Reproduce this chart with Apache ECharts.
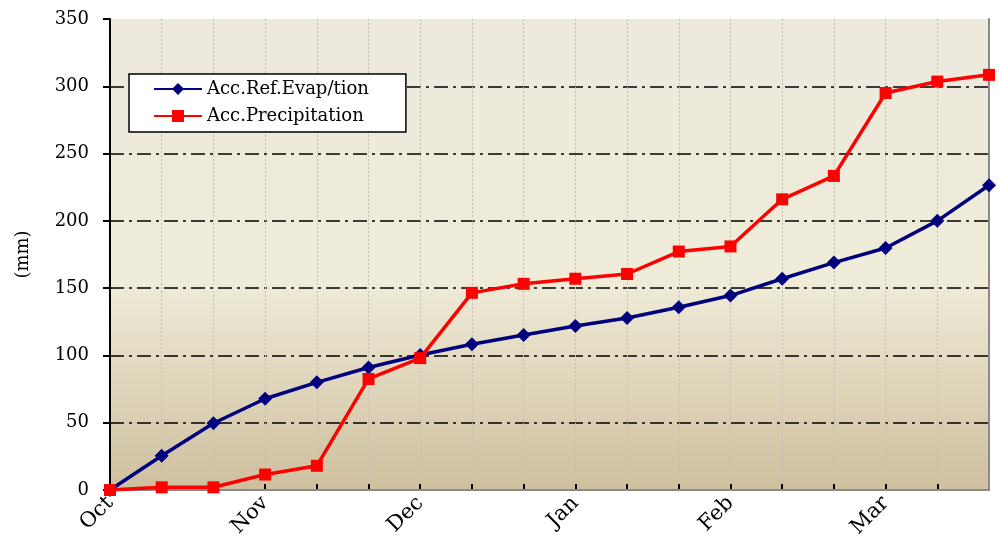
<!DOCTYPE html>
<html>
<head>
<meta charset="utf-8">
<script src="https://cdn.jsdelivr.net/npm/echarts@6/dist/echarts.min.js"></script>
<style>html,body{margin:0;padding:0;background:#fff;}#c{width:999px;height:546px;}</style>
</head>
<body>
<div id="c"></div>
<script>
var months = ['Oct', 'Nov', 'Dec', 'Jan', 'Feb', 'Mar'];
var dekads = ['I', 'II', 'III'];
var categories = [];
months.forEach(function (m) { dekads.forEach(function (d) { categories.push(m + ' ' + d); }); });
var evapName = 'Acc.Ref.Evap/tion';
var precipName = 'Acc.Precipitation';
var evapValues = [0, 25.5, 49.6, 67.8, 80, 91, 100.3, 108.3, 115.2, 121.9, 127.8, 135.8, 144.5, 157, 169, 179.8, 200, 226.5];
var precipValues = [0, 2, 2, 11.5, 18, 82.5, 98, 146.5, 153.2, 157, 160.5, 177.2, 181, 216, 233.4, 295, 303.5, 308.5];
var yTicks = [0, 50, 100, 150, 200, 250, 300, 350];

var serif = '"DejaVu Serif", "Liberation Serif", serif';
var chart = echarts.init(document.getElementById('c'), null, {renderer: 'canvas'});
chart.setOption({
  backgroundColor: '#ffffff',
  animation: false,
  textStyle: {fontFamily: serif},
  grid: {
    left: 110, right: 10, top: 19, bottom: 56,
    show: true, borderWidth: 0,
    backgroundColor: {
      type: 'linear', x: 0, y: 0, x2: 0, y2: 1,
      colorStops: [
        {offset: 0, color: '#ECE9DD'},
        {offset: 0.55, color: '#F0ECD9'},
        {offset: 1, color: '#CEBF9E'}
      ]
    }
  },
  legend: {
    orient: 'vertical',
    left: 129, top: 74,
    backgroundColor: '#ffffff',
    borderColor: '#000000',
    borderWidth: 1.5,
    borderRadius: 0,
    padding: [6, 37, 7, 24],
    itemGap: 9,
    itemWidth: 48,
    itemHeight: 15,
    textStyle: {fontFamily: serif, fontSize: 18, color: '#000'},
    data: [evapName, precipName]
  },
  xAxis: [{
    type: 'category',
    data: categories,
    boundaryGap: false,
    axisLine: {lineStyle: {color: '#000', width: 2}},
    axisTick: {show: true, inside: true, length: 6, interval: 0, lineStyle: {color: '#000', width: 2}},
    axisLabel: {
      interval: 2, rotate: 45, fontSize: 21, color: '#000', fontFamily: serif, margin: 10,
      formatter: function (v) { return v.split(' ')[0]; }
    },
    splitLine: {show: true, interval: 0, lineStyle: {color: '#C2BEB2', width: 1, type: [2, 2]}}
  }, {
    type: 'category',
    data: categories,
    position: 'top',
    boundaryGap: false,
    z: 2,
    axisLine: {show: true, lineStyle: {color: '#8A8A8A', width: 2}},
    axisTick: {show: false},
    axisLabel: {show: false},
    splitLine: {show: false}
  }],
  yAxis: [{
    type: 'value',
    min: yTicks[0], max: yTicks[yTicks.length - 1], interval: 50,
    name: '(mm)',
    nameLocation: 'middle',
    nameGap: 78,
    nameRotate: 90,
    nameTextStyle: {fontSize: 18, color: '#000', fontFamily: serif},
    axisLine: {show: true, lineStyle: {color: '#000', width: 2}},
    axisTick: {show: true, length: 7, lineStyle: {color: '#000', width: 2}},
    axisLabel: {fontSize: 18, color: '#000', fontFamily: serif, margin: 21},
    splitLine: {show: true, showMinLine: false, showMaxLine: false, lineStyle: {color: '#000', width: 1.5, type: [14, 5, 3, 5]}}
  }, {
    type: 'value',
    position: 'right',
    min: yTicks[0], max: yTicks[yTicks.length - 1], interval: 50,
    z: 2,
    axisLine: {show: true, lineStyle: {color: '#8A8A8A', width: 2}},
    axisTick: {show: false},
    axisLabel: {show: false},
    splitLine: {show: false}
  }],
  series: [{
    name: evapName,
    type: 'line',
    data: evapValues,
    symbol: 'diamond',
    symbolSize: 14,
    color: '#00007F',
    lineStyle: {width: 3.5, color: '#00007F'},
    itemStyle: {color: '#00007F'},
    z: 3
  }, {
    name: precipName,
    type: 'line',
    data: precipValues,
    symbol: 'rect',
    symbolSize: 12,
    color: '#FF0000',
    lineStyle: {width: 3.5, color: '#FF0000'},
    itemStyle: {color: '#FF0000'},
    z: 4
  }]
});
</script>
</body>
</html>
